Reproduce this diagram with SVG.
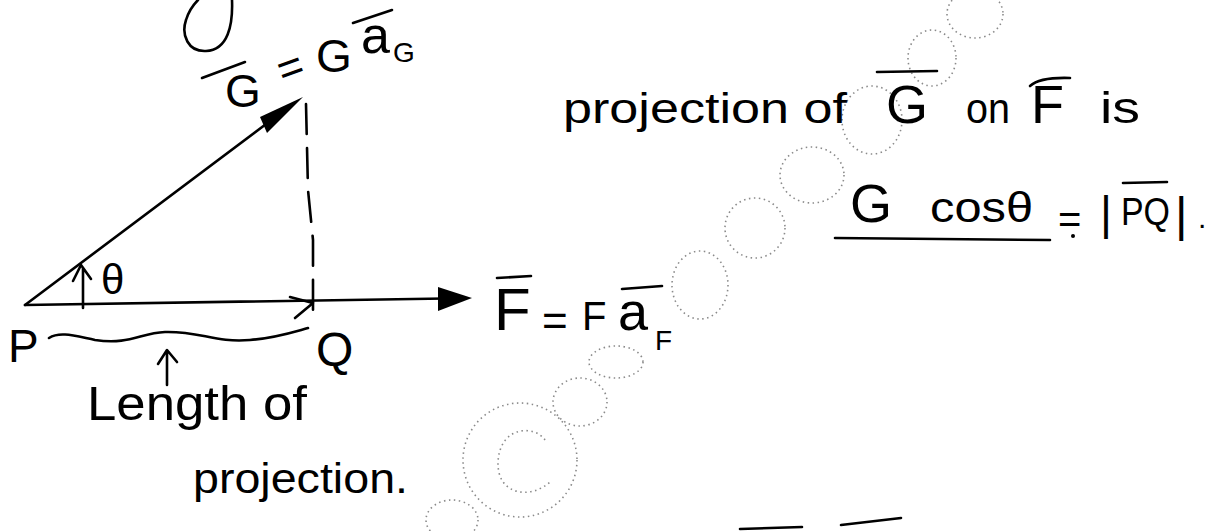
<svg xmlns="http://www.w3.org/2000/svg" width="1214" height="531" viewBox="0 0 1214 531">
<style>
.t{font-family:"Liberation Sans","DejaVu Sans",sans-serif;fill:#000}
.ln{stroke:#000;stroke-width:2.6;fill:none;stroke-linecap:round;stroke-linejoin:round}
.wm{stroke:#8a8a8a;stroke-width:1.6;fill:none;stroke-dasharray:1.5 3.5}
</style>
<rect width="1214" height="531" fill="#fff"/>
<g id="watermark">
<ellipse class="wm" cx="975" cy="14" rx="28" ry="24"/>
<ellipse class="wm" cx="932" cy="58" rx="24" ry="28"/>
<ellipse class="wm" cx="872" cy="120" rx="30" ry="34"/>
<ellipse class="wm" cx="812" cy="175" rx="32" ry="28"/>
<ellipse class="wm" cx="755" cy="228" rx="30" ry="30"/>
<ellipse class="wm" cx="700" cy="285" rx="28" ry="34"/>
<ellipse class="wm" cx="616" cy="362" rx="27" ry="16"/>
<ellipse class="wm" cx="580" cy="402" rx="27" ry="24"/>
<ellipse class="wm" cx="520" cy="460" rx="57" ry="57"/>
<path class="wm" d="M545 440 C535 425 500 425 498 462 C497 495 530 500 550 482"/>
<ellipse class="wm" cx="452" cy="520" rx="26" ry="20"/>
</g>
<g id="fragment-top">
<path class="ln" d="M232 0 C233 25 228 50 206 51 C188 52 181 35 186 20 C189 10 194 4 198 0"/>
</g>
<g id="connectors">
<line class="ln" x1="25" y1="305" x2="290" y2="106"/>
<polygon points="303,97 260,117 267,133" fill="#000"/>
<line class="ln" x1="25" y1="305" x2="445" y2="298.5"/>
<polygon points="472,298 438,287 438,311" fill="#000"/>
<path class="ln" d="M290 297 L313 303 L295 318"/>
<path class="ln" d="M306 104 L308 190 L313 240 L313 316" stroke-dasharray="30 14"/>
<path class="ln" d="M83 308 L83 268 M73 281 L81 265 L91 279"/>
<path class="ln" d="M49 338 C60 331 75 336 95 340 C130 345 140 333 165 332 C200 331 215 343 250 340 C275 338 290 333 308 328"/>
<path class="ln" d="M167 385 L167 352 M158 364 L167 350 L177 362"/>
</g>
<g id="node-G-label">
<line class="ln" x1="202" y1="78" x2="245" y2="62"/>
<text class="t" x="225" y="107" font-size="46">G</text>
<text class="t" x="292" y="82" font-size="44" text-anchor="middle" transform="rotate(-20 292 72)">=</text>
<text class="t" x="316" y="72" font-size="46">G</text>
<line class="ln" x1="353" y1="23" x2="392" y2="10"/>
<text class="t" x="361" y="53" font-size="52">a</text>
<text class="t" x="393" y="62" font-size="28">G</text>
</g>
<g id="node-theta">
<text class="t" x="101" y="294" font-size="42">θ</text>
</g>
<g id="node-P">
<text class="t" x="8" y="362" font-size="46">P</text>
</g>
<g id="node-Q">
<text class="t" x="316" y="366" font-size="48">Q</text>
</g>
<g id="node-F-label">
<line class="ln" x1="497" y1="278" x2="531" y2="276"/>
<text class="t" x="494" y="330" font-size="60">F</text>
<text class="t" x="542" y="336" font-size="44">=</text>
<text class="t" x="582" y="330" font-size="40">F</text>
<line class="ln" x1="622" y1="289" x2="662" y2="286"/>
<text class="t" x="618" y="330" font-size="54">a</text>
<text class="t" x="655" y="350" font-size="28">F</text>
</g>
<g id="node-length">
<text class="t" x="87" y="420" font-size="48" textLength="220" lengthAdjust="spacingAndGlyphs">Length of</text>
<text class="t" x="193" y="493" font-size="42" textLength="215" lengthAdjust="spacingAndGlyphs">projection.</text>
</g>
<g id="node-projection-text">
<text class="t" x="563" y="123" font-size="42" textLength="284" lengthAdjust="spacingAndGlyphs">projection of</text>
<line class="ln" x1="877" y1="72" x2="937" y2="71"/>
<text class="t" x="886" y="123" font-size="54">G</text>
<text class="t" x="966" y="123" font-size="42" textLength="44" lengthAdjust="spacingAndGlyphs">on</text>
<path class="ln" d="M1030 86 Q1040 77 1070 78"/>
<text class="t" x="1031" y="123" font-size="54">F</text>
<text class="t" x="1100" y="123" font-size="44" textLength="40" lengthAdjust="spacingAndGlyphs">is</text>
</g>
<g id="node-result">
<text class="t" x="850" y="222" font-size="54">G</text>
<text class="t" x="930" y="222" font-size="42" textLength="103" lengthAdjust="spacingAndGlyphs">cosθ</text>
<text class="t" x="1058" y="233" font-size="40">=</text>
<circle cx="1073" cy="236" r="2" fill="#000"/>
<text class="t" x="1100" y="229" font-size="46">|</text>
<line class="ln" x1="1123" y1="183" x2="1167" y2="182"/>
<text class="t" x="1121" y="225" font-size="38" textLength="49" lengthAdjust="spacingAndGlyphs">PQ</text>
<text class="t" x="1175" y="231" font-size="48">|</text>
<text class="t" x="1198" y="228" font-size="30">.</text>
<line class="ln" x1="835" y1="238" x2="1050" y2="240"/>
</g>
<g id="fragment-bottom">
<line class="ln" x1="740" y1="529" x2="802" y2="527"/>
<line class="ln" x1="841" y1="525" x2="901" y2="518"/>
</g>
</svg>
